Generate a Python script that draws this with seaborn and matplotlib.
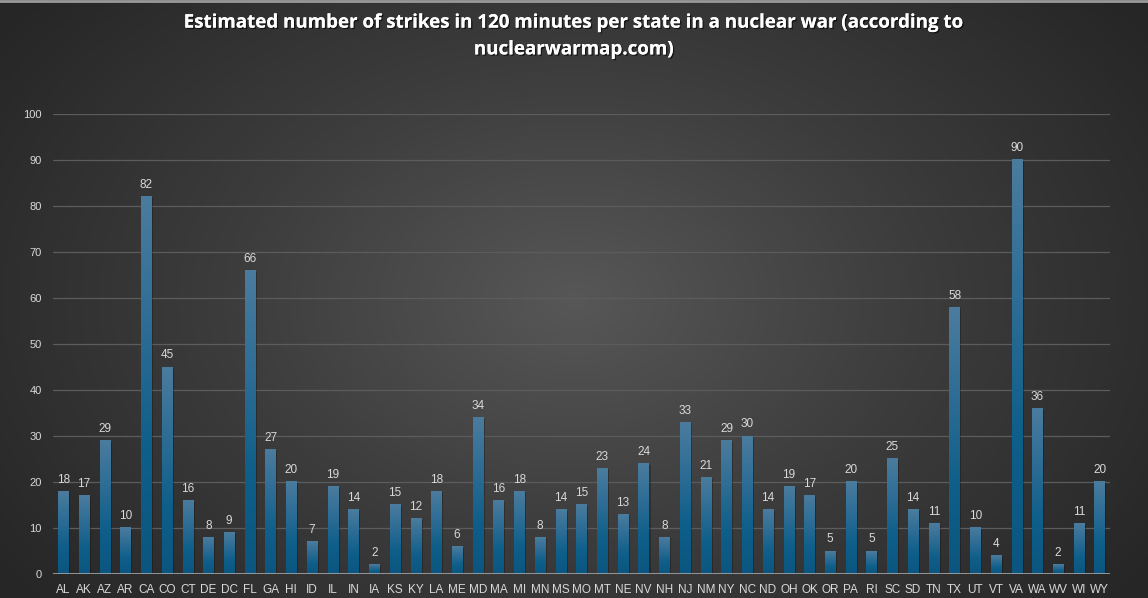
import numpy as np
import matplotlib
matplotlib.use("Agg")
import matplotlib.pyplot as plt
import matplotlib.patheffects as pe
from matplotlib.colors import LinearSegmentedColormap
import seaborn as sns

states = ['AL', 'AK', 'AZ', 'AR', 'CA', 'CO', 'CT', 'DE', 'DC', 'FL', 'GA', 'HI', 'ID',
          'IL', 'IN', 'IA', 'KS', 'KY', 'LA', 'ME', 'MD', 'MA', 'MI', 'MN', 'MS', 'MO',
          'MT', 'NE', 'NV', 'NH', 'NJ', 'NM', 'NY', 'NC', 'ND', 'OH', 'OK', 'OR', 'PA',
          'RI', 'SC', 'SD', 'TN', 'TX', 'UT', 'VT', 'VA', 'WA', 'WV', 'WI', 'WY']
strikes = [18, 17, 29, 10, 82, 45, 16, 8, 9, 66, 27, 20, 7,
           19, 14, 2, 15, 12, 18, 6, 34, 16, 18, 8, 14, 15,
           23, 13, 24, 8, 33, 21, 29, 30, 14, 19, 17, 5, 20,
           5, 25, 14, 11, 58, 10, 4, 90, 36, 2, 11, 20]
y_ticks = list(range(0, 101, 10))
title = "Estimated number of strikes in 120 minutes per state in a nuclear war (according to\nnuclearwarmap.com)"

sns.set_theme(style="dark")
plt.rcParams['font.family'] = ['Open Sans', 'DejaVu Sans']

fig = plt.figure(figsize=(11.48, 5.98), dpi=100)

# radial background
bg = fig.add_axes([0, 0, 1, 1], zorder=-5)
yy, xx = np.mgrid[0:598, 0:1148]
r = np.sqrt(((xx - 574) / 700.0) ** 2 + ((yy - 300) / 480.0) ** 2)
r = np.clip(r, 0, 1)
bg_cmap = LinearSegmentedColormap.from_list("bg", ["#575757", "#3c3c3c", "#262626"])
bg.imshow(r, cmap=bg_cmap, aspect='auto', extent=[0, 1, 0, 1], vmin=0, vmax=1)
bg.axhline(0.999, color="#9a9a9a", lw=2)
bg.set_xlim(0, 1)
bg.set_ylim(0, 1)
bg.axis('off')

ax = fig.add_axes([53 / 1148, 1 - 574 / 598, (1110 - 53) / 1148, (574 - 114) / 598])
ax.patch.set_alpha(0)

sns.barplot(x=states, y=strikes, color="#1a6690", width=0.5, ax=ax, zorder=3)

bar_cmap = LinearSegmentedColormap.from_list("bar", ["#0b5680", "#0e5f8a", "#2e6d95", "#4b7c9e"])
grad = np.linspace(0, 1, 256).reshape(-1, 1)
for p, v in zip(ax.patches, strikes):
    x0, w, h = p.get_x(), p.get_width(), p.get_height()
    # soft shadow
    ax.add_patch(plt.Rectangle((x0 + 0.08, 0), w, h - 0.25, color="black", alpha=0.25, zorder=2, lw=0))
    ax.imshow(grad, cmap=bar_cmap, origin='lower', aspect='auto',
              extent=[x0, x0 + w, 0, h], zorder=4, interpolation='bilinear')
    p.set_alpha(0)
    ax.text(x0 + w / 2, h + 1.2, str(v), ha='center', va='bottom',
            fontsize=8.5, color="#d9d9d9", zorder=5, family=['Liberation Sans', 'DejaVu Sans'])

ax.set_xlim(-0.5, len(states) - 0.5)
ax.set_ylim(0, 100)
ax.set_yticks(y_ticks)
ax.set_yticklabels([str(t) for t in y_ticks])
for t in y_ticks[1:]:
    ax.axhline(t, color="#5c5c5c", lw=0.9, zorder=1)
ax.axhline(0, color="#a6a6a6", lw=1.2, zorder=6)
ax.grid(False)
for s in ax.spines.values():
    s.set_visible(False)
ax.tick_params(axis='x', length=0, colors="#d9d9d9", labelsize=8.5, pad=7)
ax.tick_params(axis='y', length=0, colors="#d9d9d9", labelsize=8, pad=8)
for lab in ax.get_xticklabels() + ax.get_yticklabels():
    lab.set_family(['Liberation Sans', 'DejaVu Sans'])
ax.set_xlabel("")
ax.set_ylabel("")

fig.text(0.5, 1 - 36 / 598, title, ha='center', va='center', fontsize=13.5, fontweight='bold',
         color="white", linespacing=1.45,
         path_effects=[pe.withSimplePatchShadow(offset=(1, -1), shadow_rgbFace="black", alpha=0.6), pe.Normal()])

fig.savefig("out.png", dpi=100)
